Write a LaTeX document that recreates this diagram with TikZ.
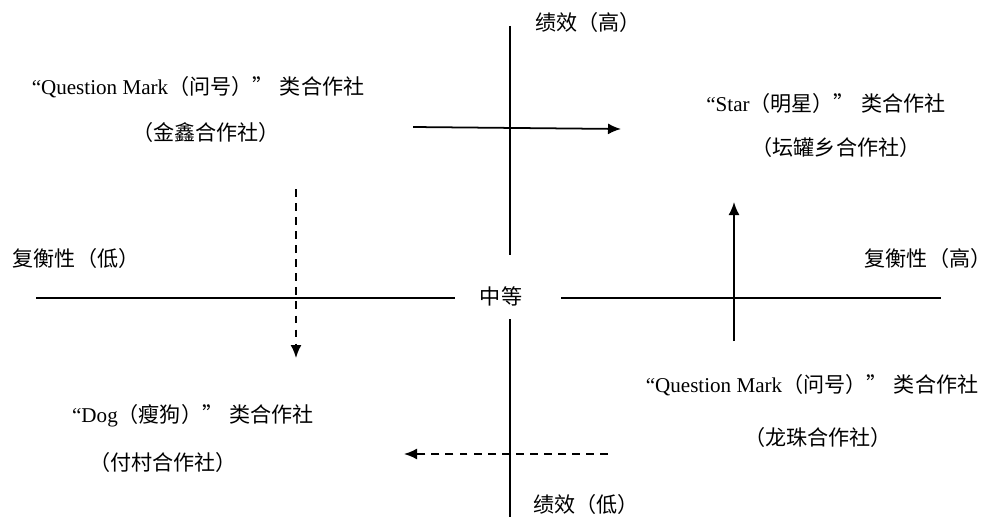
\documentclass[tikz,border=0pt]{standalone}
\usepackage{fontspec}
\setmainfont{Liberation Serif}
\newfontfamily\cjk{Noto Sans CJK SC}
\usetikzlibrary{arrows.meta}

\begin{document}
\begin{tikzpicture}[
          x=0.02cm, y=-0.02cm,
          lbl/.style={inner sep=1pt, font=\fontsize{12}{14}\selectfont},
          axis/.style={line width=0.9pt},
          arr/.style={-{Latex[length=2.6mm,width=2.2mm]}, line width=1pt},
          darr/.style={arr, dash pattern=on 4.5pt off 3.5pt}
      ]
        \useasboundingbox (0,0) rectangle (999,517);
        % axes
        \coordinate (ytop) at (510,26);
        \coordinate (yup) at (510,255);
        \coordinate (ydn) at (510,319);
        \coordinate (ybot) at (510,517);
        \coordinate (xleft) at (36,298);
        \coordinate (xl) at (455,298);
        \coordinate (xr) at (561,298);
        \coordinate (xright) at (941,298);
        \draw[axis] (ytop) -- (yup);
        \draw[axis] (ydn) -- (ybot);
        \draw[axis] (xleft) -- (xl);
        \draw[axis] (xr) -- (xright);
        \node[lbl] (mid) at (501,296) {\cjk 中等};
        \node[lbl] (perfhi) at (588,22) {\cjk 绩效（高）};
        \node[lbl] (perflo) at (586,504) {\cjk 绩效（低）};
        \node[lbl] (cxlo) at (76,258) {\cjk 复衡性（低）};
        \node[lbl] (cxhi) at (928,258) {\cjk 复衡性（高）};
        % quadrants
        \node[lbl] (qm1) at (198,87) {“Question Mark{\cjk（问号）”\hspace{0.3em}类合作社}};
        \node[lbl] (qm1n) at (206,132) {\cjk （金鑫合作社）};
        \node[lbl] (star) at (826,103) {“Star{\cjk（明星）”\hspace{0.3em}类合作社}};
        \node[lbl] (starn) at (836,147) {\cjk （坛罐乡合作社）};
        \node[lbl] (qm2) at (812,385) {“Question Mark{\cjk（问号）”\hspace{0.3em}类合作社}};
        \node[lbl] (qm2n) at (818,437) {\cjk （龙珠合作社）};
        \node[lbl] (dog) at (193,416) {“Dog{\cjk（瘦狗）”\hspace{0.3em}类合作社}};
        \node[lbl] (dogn) at (163,462) {\cjk （付村合作社）};
        % moves
        \coordinate (a1) at (413,127);
        \coordinate (a2) at (621,129);
        \coordinate (b1) at (734,341);
        \coordinate (b2) at (734,202);
        \coordinate (c1) at (296,189);
        \coordinate (c2) at (296,358);
        \coordinate (d1) at (608,454);
        \coordinate (d2) at (404,454);
        \draw[arr] (a1) -- (a2);
        \draw[arr] (b1) -- (b2);
        \draw[darr] (c1) -- (c2);
        \draw[darr] (d1) -- (d2);
      \end{tikzpicture}
\end{document}
